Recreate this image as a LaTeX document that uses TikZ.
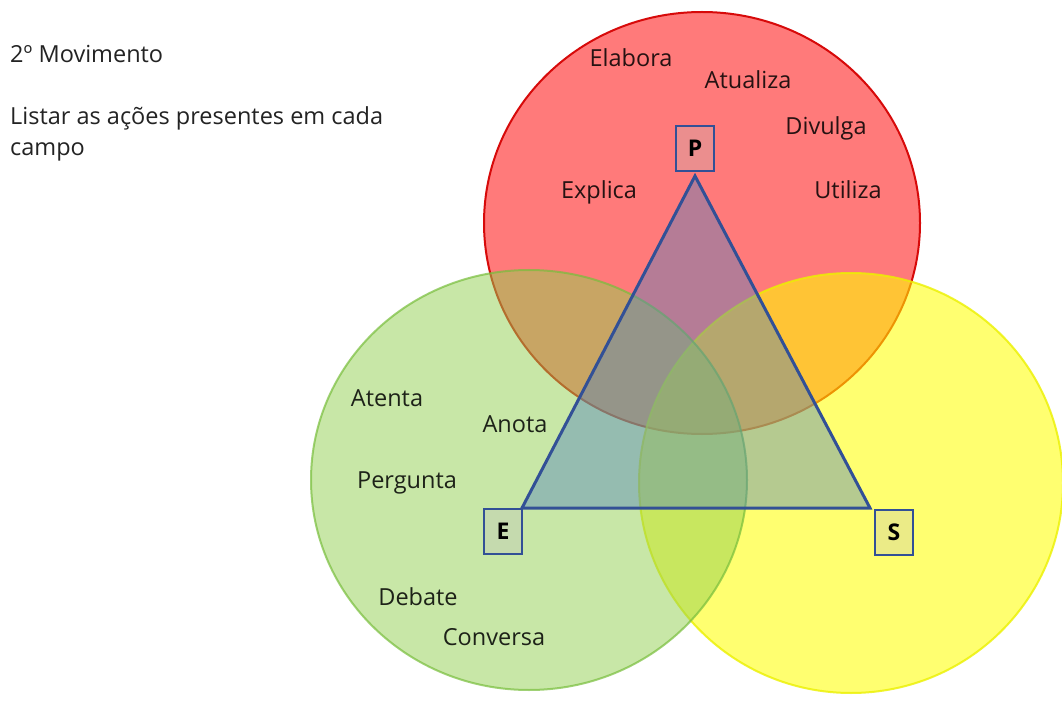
\documentclass[tikz,border=0pt]{standalone}
\usepackage{fontspec}
\setmainfont{Open Sans}
\definecolor{redfill}{RGB}{255,0,0}
\definecolor{redline}{RGB}{215,10,10}
\definecolor{grnfill}{RGB}{146,208,80}
\definecolor{grnline}{RGB}{120,190,60}
\definecolor{yelfill}{RGB}{255,255,0}
\definecolor{yelline}{RGB}{235,240,0}
\definecolor{trifill}{RGB}{79,129,189}
\definecolor{triline}{RGB}{50,80,150}
\definecolor{headtxt}{RGB}{35,35,35}
\begin{document}
\begin{tikzpicture}[x=1pt,y=-1pt,
  redc/.style={draw=redline, line width=2pt, fill=redfill, fill opacity=0.52},
  yelc/.style={draw=yelline, line width=2pt, fill=yelfill, fill opacity=0.56, draw opacity=0.8},
  grnc/.style={draw=grnline, line width=2pt, fill=grnfill, fill opacity=0.5, draw opacity=0.7},
  tri/.style={draw=triline, line width=3pt, fill=trifill, fill opacity=0.42},
  vbox/.style={draw=triline, line width=2.5pt, fill=black!25, fill opacity=0.3, text opacity=1,
    minimum width=38pt, minimum height=45pt, inner sep=0pt,
    font=\bfseries\fontsize{23}{23}\selectfont},
  lab/.style={anchor=base, inner sep=0pt, text=black, text opacity=0.85,
    font=\fontsize{23.5}{23.5}\selectfont},
  head/.style={anchor=base west, inner sep=0pt, text=headtxt,
    font=\fontsize{23.5}{23.5}\selectfont}
]
\useasboundingbox (0,0) rectangle (1062,708);
\fill[white] (0,0) rectangle (1062,708);

% circles
\draw[redc] (702,223) ellipse [x radius=218pt, y radius=211pt];
\draw[yelc] (851,483) ellipse [x radius=212pt, y radius=210pt];
\draw[grnc] (529,480) ellipse [x radius=218pt, y radius=210pt];

% triangle
\coordinate (tP) at (695,176);
\coordinate (tE) at (522,508);
\coordinate (tS) at (870,508);
\draw[tri] (tP) -- (tE) -- (tS) -- cycle;

% vertex boxes
\node[vbox] (P) at (695,148.5) {P};
\node[vbox] (E) at (503,531.5) {E};
\node[vbox] (S) at (894,532.5) {S};

% heading
\node[head] (h1) at (10,63) {2º Movimento};
\node[head] (h2) at (10,125) {Listar as ações presentes em cada};
\node[head] (h3) at (10,156) {campo};

% labels
\node[lab] (elabora) at (631,67) {Elabora};
\node[lab] (atualiza) at (748,89) {Atualiza};
\node[lab] (divulga) at (826,135) {Divulga};
\node[lab] (explica) at (599,199) {Explica};
\node[lab] (utiliza) at (848,199) {Utiliza};
\node[lab] (atenta) at (387,406) {Atenta};
\node[lab] (anota) at (515,432) {Anota};
\node[lab] (pergunta) at (407,488) {Pergunta};
\node[lab] (debate) at (418,605) {Debate};
\node[lab] (conversa) at (494,645) {Conversa};
\end{tikzpicture}
\end{document}
